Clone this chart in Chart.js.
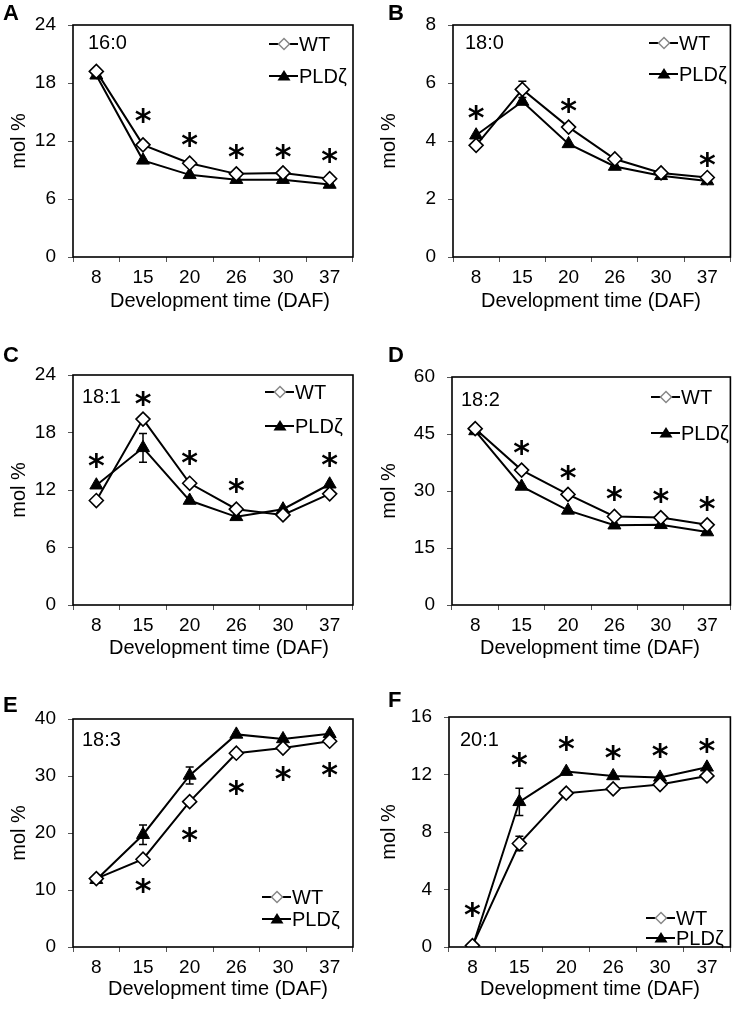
<!DOCTYPE html>
<html>
<head>
<meta charset="utf-8">
<script src="https://cdn.jsdelivr.net/npm/chart.js@4"></script>
<style>
  body { margin: 0; background: #fff; }
  #wrap { position: relative; width: 739px; height: 1009px; }
  canvas { position: absolute; }
</style>
</head>
<body>
<div id="wrap"></div>
<script>
// days after flowering
const days = ['8', '15', '20', '26', '30', '37'];

// 16:0
const wtA = [19.2, 11.6, 9.7, 8.6, 8.7, 8.1];
const pldA = [18.8, 10.0, 8.5, 8.0, 8.0, 7.5];
const starA = [null, 14.7, 12.2, 11.0, 11.0, 10.6];
// 18:0
const wtB = [3.85, 5.78, 4.48, 3.38, 2.9, 2.74];
const pldB = [4.2, 5.36, 3.9, 3.12, 2.8, 2.62];
const wtErrB = [null, 0.28, null, null, null, null];
const starB = [5.0, null, 5.25, null, null, 3.4];
// 18:1
const wtC = [10.9, 19.4, 12.7, 10.0, 9.4, 11.6];
const pldC = [12.5, 16.4, 10.9, 9.2, 10.0, 12.6];
const pldErrC = [null, 1.5, null, null, null, null];
const starC = [15.2, 21.6, 15.5, 12.6, null, 15.3];
// 18:2
const wtD = [46.4, 35.5, 29.1, 23.3, 23.0, 21.1];
const pldD = [45.8, 31.2, 24.9, 21.0, 21.1, 19.2];
const starD = [null, 41.7, 35.1, 29.6, 29.1, 26.8];
// 18:3
const wtE = [12.0, 15.4, 25.5, 34.0, 34.9, 36.1];
const pldE = [11.8, 19.7, 30.1, 37.3, 36.5, 37.4];
const pldErrE = [null, 1.7, 1.5, null, null, null];
const starE = [null, 10.9, 19.9, 28.1, 30.5, 31.3];
// 20:1
const wtF = [0.1, 7.2, 10.7, 11.0, 11.3, 11.9];
const pldF = [0.0, 10.1, 12.2, 11.9, 11.8, 12.5];
const wtErrF = [null, 0.5, null, null, null, null];
const pldErrF = [null, 0.95, null, null, null, null];
const starF = [2.7, 13.1, 14.2, 13.6, 13.7, 14.1];

const yMax = [24, 8, 24, 60, 40, 16];
const yStep = [6, 2, 6, 15, 10, 4];
const names = ['16:0', '18:0', '18:1', '18:2', '18:3', '20:1'];
const letters = ['A', 'B', 'C', 'D', 'E', 'F'];
const xTitle = 'Development time (DAF)';

const panels = [
  { wt: wtA, pld: pldA, star: starA },
  { wt: wtB, pld: pldB, star: starB, wtErr: wtErrB },
  { wt: wtC, pld: pldC, star: starC, pldErr: pldErrC },
  { wt: wtD, pld: pldD, star: starD },
  { wt: wtE, pld: pldE, star: starE, pldErr: pldErrE },
  { wt: wtF, pld: pldF, star: starF, wtErr: wtErrF, pldErr: pldErrF },
];

// layout of each panel (canvas box, plot box, x title, legend, inset label, letter)
const layout = [
  { x: 0, y: 0, w: 370, h: 320, L: 73, T: 25, R: 353, B: 257, tx: 220, ty: 301, lg: [269, 44, 76], nm: [88, 43], lt: [3, 20] },
  { x: 370, y: 0, w: 369, h: 320, L: 83, T: 25, R: 362, B: 257, tx: 221, ty: 301, lg: [279, 43, 74], nm: [95, 43], lt: [18, 20] },
  { x: 0, y: 320, w: 370, h: 340, L: 73, T: 55, R: 353, B: 285, tx: 219, ty: 328, lg: [265, 72, 106], nm: [82, 77], lt: [3, 42] },
  { x: 370, y: 320, w: 369, h: 340, L: 82, T: 57, R: 363, B: 285, tx: 220, ty: 328, lg: [281, 77, 113], nm: [91, 80], lt: [18, 42] },
  { x: 0, y: 660, w: 370, h: 349, L: 73, T: 59, R: 353, B: 287, tx: 218, ty: 329, lg: [262, 237, 259], nm: [82, 80], lt: [3, 52] },
  { x: 370, y: 660, w: 369, h: 349, L: 79, T: 57, R: 363, B: 287, tx: 220, ty: 329, lg: [276, 258, 278], nm: [90, 80], lt: [18, 47] },
];

const FONT = "'Liberation Sans', Arial, sans-serif";

function legendItem(ctx, x0, y, kind, text) {
  ctx.save();
  ctx.strokeStyle = '#000';
  ctx.lineWidth = 2;
  ctx.beginPath();
  ctx.moveTo(x0, y);
  ctx.lineTo(x0 + 29, y);
  ctx.stroke();
  const cx = x0 + 15;
  ctx.beginPath();
  if (kind === 'wt') {
    ctx.moveTo(cx, y - 5.5); ctx.lineTo(cx + 5.5, y); ctx.lineTo(cx, y + 5.5); ctx.lineTo(cx - 5.5, y); ctx.closePath();
    ctx.fillStyle = '#fff'; ctx.fill();
    ctx.strokeStyle = '#888'; ctx.lineWidth = 1.5; ctx.stroke();
  } else {
    ctx.moveTo(cx, y - 6); ctx.lineTo(cx + 6.5, y + 4.5); ctx.lineTo(cx - 6.5, y + 4.5); ctx.closePath();
    ctx.fillStyle = '#000'; ctx.fill();
  }
  ctx.fillStyle = '#000';
  ctx.font = '20px ' + FONT;
  ctx.textBaseline = 'middle';
  ctx.textAlign = 'left';
  ctx.fillText(text, x0 + 30, y + 1);
  ctx.restore();
}

const decor = {
  id: 'decor',
  beforeDatasetsDraw(chart) {
    const p = chart.options.plugins.decor;
    const ctx = chart.ctx, xs = chart.scales.x, ys = chart.scales.y;
    ctx.save();
    ctx.strokeStyle = '#000';
    ctx.lineWidth = 1.5;
    [[p.wt, p.wtErr], [p.pld, p.pldErr]].forEach(([vals, errs]) => {
      if (!errs) return;
      errs.forEach((e, i) => {
        if (e == null) return;
        const x = xs.getPixelForValue(i);
        const y0 = ys.getPixelForValue(vals[i] - e);
        const y1 = ys.getPixelForValue(vals[i] + e);
        ctx.beginPath();
        ctx.moveTo(x, y0); ctx.lineTo(x, y1);
        ctx.moveTo(x - 4, y0); ctx.lineTo(x + 4, y0);
        ctx.moveTo(x - 4, y1); ctx.lineTo(x + 4, y1);
        ctx.stroke();
      });
    });
    ctx.restore();
  },
  afterDraw(chart) {
    const p = chart.options.plugins.decor;
    const lay = p.lay;
    const ctx = chart.ctx, a = chart.chartArea, xs = chart.scales.x, ys = chart.scales.y;
    ctx.save();
    ctx.strokeStyle = '#000';
    ctx.lineWidth = 1.6;
    ctx.strokeRect(a.left, a.top, a.right - a.left, a.bottom - a.top);
    // significance marks
    ctx.fillStyle = '#000';
    ctx.font = "bold 32px 'DejaVu Sans', sans-serif";
    ctx.textAlign = 'center';
    ctx.textBaseline = 'middle';
    p.star.forEach((v, i) => {
      if (v == null) return;
      ctx.fillText('*', xs.getPixelForValue(i), ys.getPixelForValue(v) + 8);
    });
    // x axis title
    ctx.font = '20px ' + FONT;
    ctx.fillText(xTitle, lay.tx, lay.ty);
    // inset label
    ctx.textAlign = 'left';
    ctx.fillText(p.name, lay.nm[0], lay.nm[1]);
    // legend
    legendItem(ctx, lay.lg[0], lay.lg[1], 'wt', 'WT');
    legendItem(ctx, lay.lg[0], lay.lg[2], 'pld', 'PLDζ');
    // panel letter
    ctx.font = 'bold 22px ' + FONT;
    ctx.textBaseline = 'alphabetic';
    ctx.fillText(p.letter, lay.lt[0], lay.lt[1]);
    ctx.restore();
  }
};

const wrap = document.getElementById('wrap');

panels.forEach((pn, k) => {
  const lay = layout[k];
  const cv = document.createElement('canvas');
  cv.width = lay.w; cv.height = lay.h;
  cv.style.left = lay.x + 'px'; cv.style.top = lay.y + 'px';
  cv.style.width = lay.w + 'px'; cv.style.height = lay.h + 'px';
  wrap.appendChild(cv);

  new Chart(cv.getContext('2d'), {
    type: 'line',
    data: {
      labels: days,
      datasets: [
        {
          label: 'PLDζ', data: pn.pld,
          borderColor: '#000', borderWidth: 2, backgroundColor: '#000',
          pointStyle: 'triangle', pointRadius: 7.5, pointBorderColor: '#000', pointBackgroundColor: '#000',
          pointBorderWidth: 1, tension: 0, order: 2
        },
        {
          label: 'WT', data: pn.wt,
          borderColor: '#000', borderWidth: 2, backgroundColor: '#fff',
          pointStyle: 'rectRot', pointRadius: 7, pointBorderColor: '#000', pointBackgroundColor: '#fff',
          pointBorderWidth: 1.6, tension: 0, order: 1
        }
      ]
    },
    options: {
      responsive: false,
      animation: false,
      events: [],
      layout: { padding: { left: 0, top: lay.T, right: lay.w - lay.R, bottom: 0 } },
      plugins: {
        legend: { display: false },
        tooltip: { enabled: false },
        decor: Object.assign({ name: names[k], letter: letters[k], lay: lay }, pn)
      },
      scales: {
        x: {
          type: 'category',
          offset: true,
          grid: { offset: true, drawOnChartArea: false, drawTicks: true, tickLength: 5, color: '#555', lineWidth: 1 },
          border: { display: false },
          ticks: { color: '#000', font: { family: FONT, size: 19 }, padding: 4, maxRotation: 0 },
          afterFit: s => { s.height = lay.h - lay.B; }
        },
        y: {
          min: 0, max: yMax[k],
          grid: { drawOnChartArea: false, drawTicks: true, tickLength: 5, color: '#555', lineWidth: 1 },
          border: { display: false },
          ticks: { stepSize: yStep[k], color: '#000', font: { family: FONT, size: 19 }, padding: 12 },
          title: { display: true, text: 'mol %', color: '#000', font: { family: FONT, size: 20 }, padding: { top: 7, bottom: 0 } },
          afterFit: s => { s.width = lay.L; }
        }
      }
    },
    plugins: [decor]
  });
});
</script>
</body>
</html>
